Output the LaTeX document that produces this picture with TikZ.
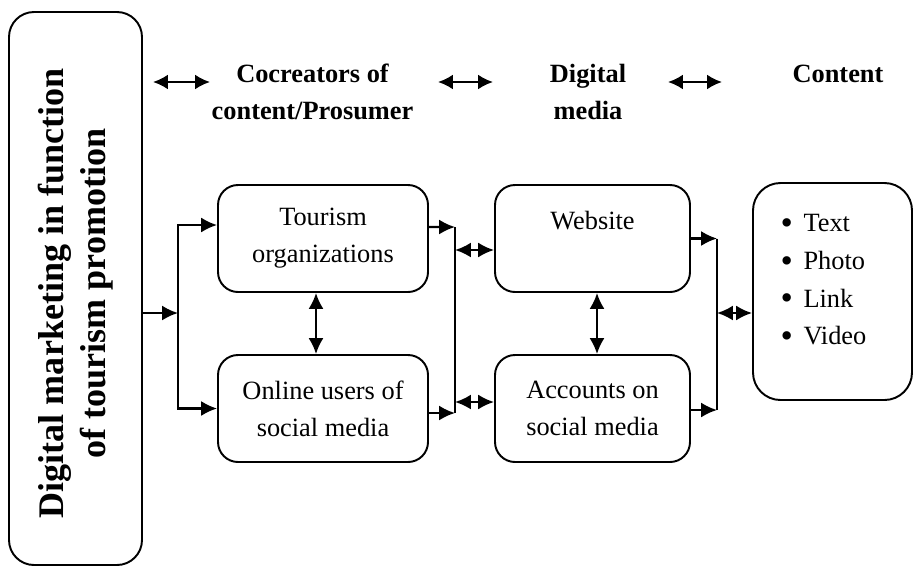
\documentclass[tikz,border=0pt]{standalone}
\usepackage{fontspec}
\setmainfont{Liberation Serif}
\usetikzlibrary{arrows.meta,positioning}

\tikzset{
  box/.style={draw,line width=1.1pt,rounded corners=0.4cm,minimum width=4.2cm,minimum height=2.14cm,align=center,font=\fontsize{15}{21}\selectfont},
  arr/.style={line width=1.3pt,-{Latex[length=9pt,width=8.5pt]}},
  darr/.style={line width=1.3pt,{Latex[length=9pt,width=8.5pt]}-{Latex[length=9pt,width=8.5pt]}},
  harr/.style={line width=1.3pt,{Latex[length=8.5pt,width=8.5pt]}-{Latex[length=8.5pt,width=8.5pt]}},
  head/.style={font=\fontsize{15}{21}\selectfont\bfseries,align=center}
}
\newcommand{\itm}[1]{\raisebox{-1.6pt}{\fontsize{20}{21}\selectfont\textbullet}\hspace{0.4em}#1}

\begin{document}
\begin{tikzpicture}
\useasboundingbox (0,0) rectangle (18.28,-11.4);
%main box
\node[draw,line width=1.1pt,rounded corners=0.5cm,rotate=90,minimum width=11.06cm,minimum height=2.66cm,align=center,font=\fontsize{20.5}{24}\selectfont\bfseries] (main) at (1.51,-5.77)
  {Digital marketing in function\rule{5.6pt}{0pt}\\of tourism promotion\rule{5.6pt}{0pt}};
%headers
\node[head] (cocreators) at (6.25,-1.84) {Cocreators of\\content/Prosumer};
\node[head] (digital) at (11.76,-1.84) {Digital\\media};
\node[head] (contenthead) at (16.76,-1.84) {Content\\~};
\foreach \a/\b [count=\i] in {3.06/4.2,8.76/9.86,13.36/14.44} {
  \coordinate (hl\i) at (\a,-1.64);
  \coordinate (hr\i) at (\b,-1.64);
  \draw[harr] (hl\i) -- (hr\i);
}
%boxes
\node[box] (org) at (6.46,-4.77) {Tourism\\organizations};
\node[box] (users) at (6.46,-8.17) {Online users of\\social media};
\node[box,minimum width=3.9cm] (web) at (11.85,-4.77) {Website\\~};
\node[box,minimum width=3.9cm] (acc) at (11.85,-8.17) {Accounts on\\social media};
\node[box,rounded corners=0.55cm,minimum width=3.18cm,minimum height=4.34cm] (content) at (16.65,-5.83) {};
\node[align=left,font=\fontsize{15}{21.5}\selectfont] (items) at ([xshift=-0.18cm,yshift=0.21cm]content.center)
  {\itm{Text}\\\itm{Photo}\\\itm{Link}\\\itm{Video}};
%split from main
\coordinate (s1) at (3.56,-6.26);
\draw[arr] (main.south |- s1) -- (s1);
\draw[arr] (s1) |- ([yshift=0.27cm]org.west);
\draw[arr] (s1) |- (users.west);
\draw[darr] ([xshift=-0.14cm]org.south) -- ([xshift=-0.14cm]users.north);
%join to digital media
\coordinate (j1t) at (9.1,-4.54);
\coordinate (j1b) at (9.1,-8.26);
\draw[arr] ([yshift=0.23cm]org.east) -- (j1t);
\draw[arr] ([yshift=-0.09cm]users.east) -- (j1b);
\draw[line width=1.1pt] (j1t) -- (j1b);
\draw[darr] ([yshift=-0.23cm]web.west -| j1t) -- ([yshift=-0.23cm]web.west);
\draw[darr] ([yshift=0.13cm]acc.west -| j1t) -- ([yshift=0.13cm]acc.west);
\draw[darr] ([xshift=0.09cm]web.south) -- ([xshift=0.09cm]acc.north);
%join to content
\coordinate (j2t) at (14.34,-4.77);
\coordinate (j2b) at (14.34,-8.2);
\draw[arr] (web.east) -- (j2t);
\draw[arr] ([yshift=-0.03cm]acc.east) -- (j2b);
\draw[line width=1.1pt] (j2t) -- (j2b);
\draw[darr] ([yshift=-0.43cm]content.west -| j2t) -- ([yshift=-0.43cm]content.west);
\end{tikzpicture}
\end{document}
